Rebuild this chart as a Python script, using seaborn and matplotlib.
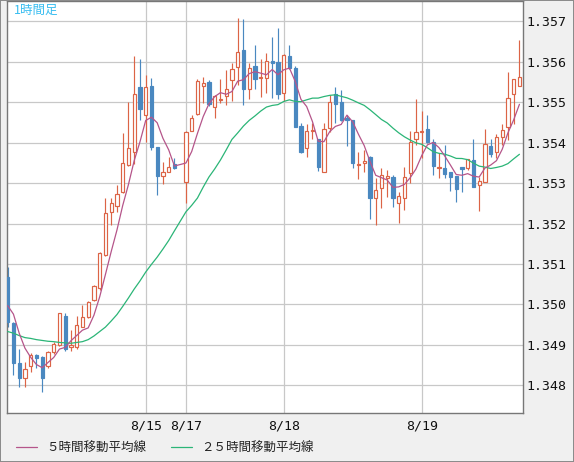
import numpy as np
import pandas as pd
import matplotlib
matplotlib.use("Agg")
import matplotlib.pyplot as plt
from matplotlib.lines import Line2D
from matplotlib.patches import Rectangle
import seaborn as sns

# ---- data (hourly candles) ----
opens = [1.35069, 1.34953, 1.34856, 1.34819, 1.34848, 1.34875, 1.34869, 1.34849, 1.34883, 1.34900,
         1.34971, 1.34895, 1.34896, 1.34945, 1.34968, 1.35011, 1.35040, 1.35121, 1.35229, 1.35243,
         1.35277, 1.35345, 1.35378, 1.35537, 1.35468, 1.35540, 1.35389, 1.35318, 1.35328, 1.35347,
         1.35302, 1.35429, 1.35470, 1.35541, 1.35551, 1.35489, 1.35505, 1.35515, 1.35555, 1.35586,
         1.35629, 1.35532, 1.35590, 1.35560, 1.35559, 1.35603, 1.35599, 1.35523, 1.35614, 1.35584,
         1.35441, 1.35386, 1.35429, 1.35408, 1.35327, 1.35435, 1.35520, 1.35500, 1.35460, 1.35456,
         1.35345, 1.35349, 1.35365, 1.35262, 1.35287, 1.35312, 1.35314, 1.35252, 1.35262, 1.35324,
         1.35408, 1.35426, 1.35434, 1.35401, 1.35337, 1.35337, 1.35327, 1.35318, 1.35339, 1.35337,
         1.35357, 1.35295, 1.35303, 1.35392, 1.35376, 1.35413, 1.35438, 1.35520, 1.35540]
highs = [1.35092, 1.34956, 1.34890, 1.34857, 1.34879, 1.34877, 1.34872, 1.34886, 1.34907, 1.34980,
         1.34978, 1.34937, 1.34971, 1.34999, 1.35009, 1.35048, 1.35130, 1.35264, 1.35262, 1.35295,
         1.35423, 1.35500, 1.35614, 1.35606, 1.35567, 1.35559, 1.35390, 1.35351, 1.35365, 1.35361,
         1.35430, 1.35468, 1.35557, 1.35563, 1.35555, 1.35518, 1.35557, 1.35580, 1.35598, 1.35709,
         1.35706, 1.35598, 1.35641, 1.35606, 1.35621, 1.35662, 1.35684, 1.35620, 1.35641, 1.35590,
         1.35448, 1.35446, 1.35448, 1.35408, 1.35449, 1.35518, 1.35537, 1.35530, 1.35468, 1.35456,
         1.35378, 1.35382, 1.35367, 1.35312, 1.35337, 1.35332, 1.35320, 1.35279, 1.35339, 1.35430,
         1.35507, 1.35478, 1.35468, 1.35408, 1.35374, 1.35394, 1.35327, 1.35318, 1.35340, 1.35360,
         1.35410, 1.35316, 1.35434, 1.35409, 1.35421, 1.35445, 1.35575, 1.35557, 1.35654]
lows = [1.34945, 1.34826, 1.34797, 1.34795, 1.34834, 1.34844, 1.34784, 1.34844, 1.34878, 1.34898,
        1.34885, 1.34886, 1.34889, 1.34944, 1.34967, 1.35009, 1.35036, 1.35120, 1.35196, 1.35229,
        1.35275, 1.35342, 1.35347, 1.35456, 1.35402, 1.35382, 1.35271, 1.35297, 1.35328, 1.35334,
        1.35250, 1.35428, 1.35468, 1.35499, 1.35491, 1.35462, 1.35497, 1.35493, 1.35504, 1.35543,
        1.35493, 1.35507, 1.35533, 1.35512, 1.35522, 1.35510, 1.35507, 1.35504, 1.35581, 1.35438,
        1.35374, 1.35365, 1.35410, 1.35331, 1.35327, 1.35427, 1.35448, 1.35454, 1.35392, 1.35337,
        1.35309, 1.35328, 1.35210, 1.35196, 1.35238, 1.35266, 1.35242, 1.35201, 1.35233, 1.35300,
        1.35394, 1.35361, 1.35398, 1.35320, 1.35312, 1.35313, 1.35280, 1.35254, 1.35277, 1.35332,
        1.35290, 1.35232, 1.35302, 1.35365, 1.35361, 1.35394, 1.35407, 1.35445, 1.35540]
closes = [1.34957, 1.34856, 1.34819, 1.34840, 1.34874, 1.34868, 1.34817, 1.34883, 1.34902, 1.34978,
          1.34889, 1.34899, 1.34948, 1.34968, 1.35006, 1.35046, 1.35126, 1.35225, 1.35250, 1.35272,
          1.35349, 1.35386, 1.35520, 1.35482, 1.35537, 1.35389, 1.35318, 1.35328, 1.35339, 1.35337,
          1.35426, 1.35460, 1.35552, 1.35547, 1.35495, 1.35515, 1.35509, 1.35532, 1.35581, 1.35623,
          1.35533, 1.35584, 1.35557, 1.35562, 1.35603, 1.35598, 1.35520, 1.35617, 1.35584, 1.35439,
          1.35376, 1.35430, 1.35432, 1.35341, 1.35433, 1.35500, 1.35495, 1.35456, 1.35456, 1.35350,
          1.35347, 1.35355, 1.35262, 1.35283, 1.35320, 1.35318, 1.35264, 1.35268, 1.35314, 1.35402,
          1.35426, 1.35429, 1.35402, 1.35343, 1.35339, 1.35323, 1.35316, 1.35285, 1.35334, 1.35359,
          1.35291, 1.35306, 1.35396, 1.35371, 1.35413, 1.35431, 1.35510, 1.35557, 1.35563]

ma5_head = [1.34997, 1.34976, 1.34929, 1.34892]
ma25_head = [1.34933, 1.34929, 1.34923, 1.34918, 1.34916, 1.34913, 1.34911, 1.34909,
             1.34908, 1.34906, 1.34905, 1.34904, 1.34906, 1.34908, 1.34913, 1.34922,
             1.34933, 1.34944, 1.34959, 1.34975, 1.34995, 1.35016, 1.35038, 1.35058,
             1.35080, 1.35099, 1.35117, 1.35137, 1.35158, 1.35182, 1.35229, 1.35245,
             1.35263, 1.35290, 1.35315, 1.35335, 1.35357, 1.35382, 1.35408, 1.35424,
             1.35441, 1.35455, 1.35466, 1.35478, 1.35488, 1.35492, 1.35494]

gap_slot = 30                      # weekend gap (empty hour slot)
tick_slots = [24, 31, 48, 72]
tick_labels = ["8/15", "8/17", "8/18", "8/19"]
y_ticks = [1.348, 1.349, 1.350, 1.351, 1.352, 1.353, 1.354, 1.355, 1.356, 1.357]
legend_labels = ["５時間移動平均線", "２５時間移動平均線"]
title_text = "1時間足"

# ---- styling ----
sns.set_theme(style="white")
plt.rcParams['font.family'] = ['Noto Sans CJK JP', 'DejaVu Sans']

RED = "#dc6446"
BLUE = "#4a88c0"
MA5_C = "#b5558a"
MA25_C = "#2bb577"
GRID = "#c8c8c8"

n = len(closes)
slot = np.arange(n)
slot[slot >= gap_slot] += 1
df = pd.DataFrame(dict(slot=slot, open=opens, high=highs, low=lows, close=closes))
ma5 = df["close"].rolling(5).mean()
ma5.iloc[:len(ma5_head)] = ma5_head
ma25 = df["close"].rolling(25).mean()
ma25.iloc[:len(ma25_head)] = ma25_head
df["ma5"] = ma5
df["ma25"] = ma25

W, H = 574, 462
fig = plt.figure(figsize=(W / 100, H / 100), dpi=100, facecolor="#f0f0f0")
fig.patches.append(Rectangle((0, 0), 1, 1, transform=fig.transFigure, fill=False,
                             edgecolor="#8a8a8a", lw=1.4, zorder=10))
left, right, top, bottom = 7, 523, 1, 412.5
ax = fig.add_axes([left / W, 1 - bottom / H, (right - left) / W, (bottom - top) / H])
ax.set_facecolor("white")

# gridlines
for yv in y_ticks:
    ax.axhline(yv, color=GRID, lw=0.9, zorder=0)
for sv in tick_slots:
    ax.axvline(sv, color=GRID, lw=0.9, zorder=0)

up = df["close"] >= df["open"]
colors = np.where(up, RED, BLUE)
ax.vlines(df["slot"], df["low"], df["high"], colors=colors, lw=0.85, zorder=2)
body_lo = np.minimum(df["open"], df["close"])
body_h = np.maximum(np.abs(df["close"] - df["open"]), 0.00002)
ax.bar(df["slot"][up], body_h[up], bottom=body_lo[up], width=0.55,
       facecolor="white", edgecolor=RED, lw=0.85, zorder=3)
ax.bar(df["slot"][~up], body_h[~up], bottom=body_lo[~up], width=0.55,
       facecolor=BLUE, edgecolor=BLUE, lw=0.85, zorder=3)

sns.lineplot(data=df, x="slot", y="ma25", color=MA25_C, lw=0.9, ax=ax, zorder=4)
sns.lineplot(data=df, x="slot", y="ma5", color=MA5_C, lw=0.9, ax=ax, zorder=5)

ax.set_xlim(-0.12, 89.62)
ax.set_ylim(1.347316 + 0.5 / 40450, 1.357502)
ax.set_xlabel("")
ax.set_ylabel("")
ax.yaxis.tick_right()
ax.set_yticks(y_ticks)
ax.set_yticklabels([f"{v:.3f}" for v in y_ticks], family="DejaVu Sans Mono")
ax.set_xticks(tick_slots)
ax.set_xticklabels(tick_labels, family="DejaVu Sans Mono")
ax.tick_params(axis="both", length=0, labelsize=9.5, labelcolor="#111111")
ax.tick_params(axis="y", pad=2.5)
ax.tick_params(axis="x", pad=5)
for s in ax.spines.values():
    s.set_visible(True)
    s.set_color("#777777")
    s.set_linewidth(1.0)

fig.text(14 / W, 1 - 10 / H, title_text, color="#38bdf0", fontsize=9,
         ha="left", va="center")

handles = [Line2D([0], [0], color=MA5_C, lw=0.9), Line2D([0], [0], color=MA25_C, lw=0.9)]
fig.legend(handles, legend_labels, loc="center left", bbox_to_anchor=(16 / W, 1 - 448 / H),
           ncol=2, frameon=False, fontsize=9, handlelength=1.7, handletextpad=0.7,
           columnspacing=2.0, borderpad=0, borderaxespad=0, labelcolor="#222222")

fig.savefig("out.png", dpi=100, facecolor=fig.get_facecolor())
